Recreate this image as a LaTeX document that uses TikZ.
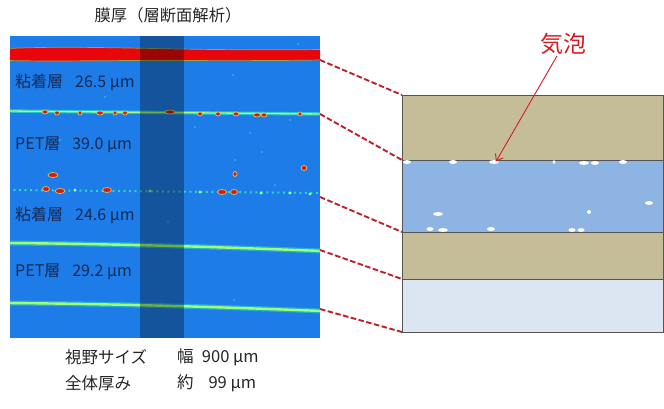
\documentclass[tikz,border=0pt]{standalone}
\usepackage{fontspec}
\setmainfont{Noto Sans CJK JP}
\usetikzlibrary{arrows.meta}
\definecolor{imgblue}{RGB}{30,124,232}
\definecolor{bandred}{RGB}{232,6,12}
\definecolor{bandedge}{RGB}{150,165,70}
\definecolor{glowcyan}{RGB}{40,215,200}
\definecolor{glowgreen}{RGB}{160,255,110}
\definecolor{spotred}{RGB}{215,25,20}
\definecolor{spotedge}{RGB}{210,200,90}
\definecolor{labelnavy}{RGB}{22,42,85}
\definecolor{dashred}{RGB}{192,32,38}
\definecolor{tan}{RGB}{196,189,151}
\definecolor{pblue}{RGB}{141,180,226}
\definecolor{pale}{RGB}{220,230,242}
\definecolor{edgegray}{RGB}{85,85,85}
\definecolor{kired}{RGB}{210,30,35}
\tikzset{
  imglabel/.style={anchor=west, text=labelnavy, font=\fontsize{16}{19}\selectfont, inner sep=0pt},
  caption/.style={anchor=west, text=black!85, font=\fontsize{16.5}{19}\selectfont, inner sep=0pt},
  layer/.style={draw=edgegray, line width=0.8pt, anchor=north west, minimum width=261pt, inner sep=0pt, outer sep=0pt},
  guide/.style={draw=dashred, line width=1.9pt, dash pattern=on 5.5pt off 2.5pt},
  spot/.style={fill=spotred, draw=spotedge, line width=0.7pt},
  bubble/.style={fill=white},
  speck/.style={fill=glowcyan}
}
\begin{document}
\begin{tikzpicture}[x=1pt,y=-1pt]
\useasboundingbox (0,0) rectangle (664,409);
% title
\node[font=\fontsize{16.3}{19}\selectfont, text=black!85] (title) at (168,15) {膜厚（層断面解析）};
% ---- microscope image ----
\begin{scope}
\clip (10,36) rectangle (320,338);
\fill[imgblue] (10,36) rectangle (320,338);
% red band
\fill[bandred, draw=bandedge, line width=0.7pt] (8,48.5) .. controls (60,46) and (120,48) .. (180,49) .. controls (240,50) and (280,50) .. (322,49.5) -- (322,60) .. controls (260,61) and (200,60.5) .. (150,60.5) .. controls (100,60.5) and (50,61.5) .. (8,60.5) -- cycle;
% line 1 (adhesive/PET interface)
\draw[glowcyan, line width=3.4pt, opacity=0.8] (8,111) .. controls (100,112) and (220,113) .. (322,114);
\draw[glowgreen, line width=1.3pt] (8,111) .. controls (100,112) and (220,113) .. (322,114);
\foreach \x/\y/\r in {45/112/3,57/113/2.5,80/113/2,100/113/3.5,115/113/2,125/113/2.5,170/112/5,200/114/2.5,218/114/2.5,236/114/3,257/115/3.5,264/115/3,300/114/2}
  \filldraw[spot] (\x,\y) ellipse [x radius=\r pt, y radius=2pt];
% line 2 (bubble row)
\draw[glowcyan, line width=2pt, dash pattern=on 2pt off 3.5pt] (8,190) -- (322,193);
\foreach \x/\y/\r in {46/189/3.5,60/191/5,107/190/4.5,222/192/4.5,234/192/3.5,53/175/5,235/174/2,304/168/3}
  \filldraw[spot] (\x,\y) ellipse [x radius=\r pt, y radius=2.5pt];
\foreach \x/\y in {261/193,310/194,290/193,200/192,150/191,75/190}
  \fill[glowgreen] (\x,\y) circle [radius=1.6pt];
% lines 3 and 4
\draw[glowcyan, line width=5pt, opacity=0.55] (8,243) .. controls (120,244) and (220,247) .. (322,251);
\draw[glowgreen, line width=2.4pt] (8,243) .. controls (120,244) and (220,247) .. (322,251);
\draw[glowcyan, line width=5pt, opacity=0.55] (8,303) .. controls (120,304) and (220,307) .. (322,311);
\draw[glowgreen, line width=2.4pt] (8,303) .. controls (120,304) and (220,307) .. (322,311);
% specks
\foreach \x/\y in {298/44,233/75,250/133,195/127,262/152,168/222,235/160,125/148,275/185,105/97,290/120,60/140,234/300,120/270}
  \fill[speck] (\x,\y) circle [radius=0.9pt];
% dark overlay band
\fill[black, opacity=0.32] (140,36) rectangle (184,338);
\end{scope}
% image labels
\node[imglabel] (l1) at (15,82) {粘着層\hspace{0.75em}26.5 μm};
\node[imglabel] (l2) at (15,145) {PET層\hspace{0.75em}39.0 μm};
\node[imglabel] (l3) at (15,215) {粘着層\hspace{0.75em}24.6 μm};
\node[imglabel] (l4) at (15,272) {PET層\hspace{0.75em}29.2 μm};
% captions
\node[caption] (c1) at (65,357) {視野サイズ};
\node[caption] (c2) at (177,357) {幅\hspace{0.5em}900 μm};
\node[caption] (c3) at (65,383) {全体厚み};
\node[caption] (c4) at (177,383) {約\hspace{0.9em}99 μm};
% ---- schematic layers ----
\node[layer, fill=tan, minimum height=65pt] (L1) at (402,95) {};
\node[layer, fill=pblue, minimum height=72pt] (L2) at (402,160) {};
\node[layer, fill=tan, minimum height=47pt] (L3) at (402,232) {};
\node[layer, fill=pale, minimum height=53pt] (L4) at (402,279) {};
% bubbles
\foreach \x/\y/\r in {407/162/4,453/162/4,494/162/5,554/162/1.6,584/163/5,595/163/4,623/162/4,649/203/4,438/214/5,589/212/2,430/229/3.5,443/230/5,491/229/4,572/230/3.5,581/230/3.5}
  \fill[bubble] (\x,\y) ellipse [x radius=\r pt, y radius=1.9pt];
% guide lines
\coordinate (g1) at (320,60);
\coordinate (g2) at (320,114);
\coordinate (g3) at (320,197);
\coordinate (g4) at (320,250);
\coordinate (g5) at (320,309);
\draw[guide] (g1) -- (L1.north west);
\draw[guide] (g2) -- (L2.north west);
\draw[guide] (g3) -- (L3.north west);
\draw[guide] (g4) -- (L4.north west);
\draw[guide] (g5) -- (L4.south west);
% bubble callout
\node[text=kired, font=\fontsize{23}{26}\selectfont, inner sep=1pt] (ki) at (563,44) {気泡};
\coordinate (bub) at (496,161.5);
\draw[kired, line width=0.9pt, -{Straight Barb[length=6pt,width=9pt]}] ([xshift=-6pt]ki.south) -- (bub);
\end{tikzpicture}
\end{document}
